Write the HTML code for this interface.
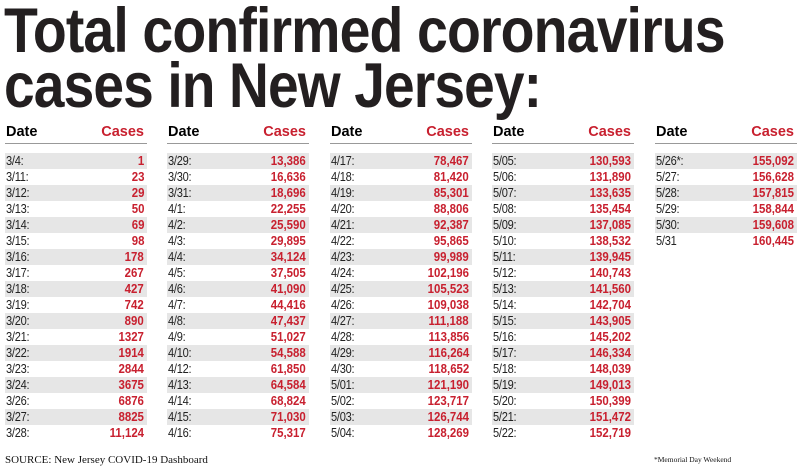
<!DOCTYPE html>
<html><head><meta charset="utf-8"><style>
body{margin:0;width:800px;height:470px;background:#fff;overflow:hidden;position:relative;font-family:"Liberation Sans",sans-serif}
.t{position:absolute;left:4px;font-weight:bold;font-size:63px;line-height:62px;color:#231f20;transform-origin:0 0;white-space:nowrap;letter-spacing:-1px}
.col{position:absolute;top:124px;width:142px}
.hd{height:19px;border-bottom:1.5px solid #999;font-weight:bold;font-size:14.5px;position:relative;margin-bottom:9px}
.hd span{position:absolute;top:0}
.r{height:16px;line-height:16px;font-size:13px;position:relative;color:#222}
.s{background:#e6e6e6}
.r .d{position:absolute;left:1px;transform:scaleX(.85);transform-origin:0 0;letter-spacing:-.3px}
.r .v{position:absolute;right:3px;color:#c8202f;font-weight:bold;transform:scaleX(.88);transform-origin:100% 0}
.red{color:#c8202f}
.f{position:absolute;font-family:"Liberation Serif",serif;color:#111}
</style></head><body>
<div class="t" style="top:0;transform:scaleX(.88)">Total confirmed coronavirus</div>
<div class="t" style="top:55px;transform:scaleX(.875)">cases in New Jersey:</div>
<div id="c"></div>
<div class="f" style="left:5px;top:454px;font-size:11px">SOURCE: New Jersey COVID-19 Dashboard</div>
<div class="f" style="left:654px;top:455px;font-size:7.5px">*Memorial Day Weekend</div>
<script>
var cols=[
[["3/4:","1"],["3/11:","23"],["3/12:","29"],["3/13:","50"],["3/14:","69"],["3/15:","98"],["3/16:","178"],["3/17:","267"],["3/18:","427"],["3/19:","742"],["3/20:","890"],["3/21:","1327"],["3/22:","1914"],["3/23:","2844"],["3/24:","3675"],["3/26:","6876"],["3/27:","8825"],["3/28:","11,124"]],
[["3/29:","13,386"],["3/30:","16,636"],["3/31:","18,696"],["4/1:","22,255"],["4/2:","25,590"],["4/3:","29,895"],["4/4:","34,124"],["4/5:","37,505"],["4/6:","41,090"],["4/7:","44,416"],["4/8:","47,437"],["4/9:","51,027"],["4/10:","54,588"],["4/12:","61,850"],["4/13:","64,584"],["4/14:","68,824"],["4/15:","71,030"],["4/16:","75,317"]],
[["4/17:","78,467"],["4/18:","81,420"],["4/19:","85,301"],["4/20:","88,806"],["4/21:","92,387"],["4/22:","95,865"],["4/23:","99,989"],["4/24:","102,196"],["4/25:","105,523"],["4/26:","109,038"],["4/27:","111,188"],["4/28:","113,856"],["4/29:","116,264"],["4/30:","118,652"],["5/01:","121,190"],["5/02:","123,717"],["5/03:","126,744"],["5/04:","128,269"]],
[["5/05:","130,593"],["5/06:","131,890"],["5/07:","133,635"],["5/08:","135,454"],["5/09:","137,085"],["5/10:","138,532"],["5/11:","139,945"],["5/12:","140,743"],["5/13:","141,560"],["5/14:","142,704"],["5/15:","143,905"],["5/16:","145,202"],["5/17:","146,334"],["5/18:","148,039"],["5/19:","149,013"],["5/20:","150,399"],["5/21:","151,472"],["5/22:","152,719"]],
[["5/26*:","155,092"],["5/27:","156,628"],["5/28:","157,815"],["5/29:","158,844"],["5/30:","159,608"],["5/31","160,445"]]];
var xs=[5,167,330,492,655],h="";
cols.forEach(function(c,i){h+='<div class="col" style="left:'+xs[i]+'px"><div class="hd"><span style="left:1px">Date</span><span class="red" style="right:3px">Cases</span></div>';
c.forEach(function(r,j){h+='<div class="r'+(j%2==0?' s':'')+'"><span class="d">'+r[0]+'</span><span class="v">'+r[1]+'</span></div>';});h+='</div>';});
document.getElementById('c').innerHTML=h;
</script>
</body></html>
